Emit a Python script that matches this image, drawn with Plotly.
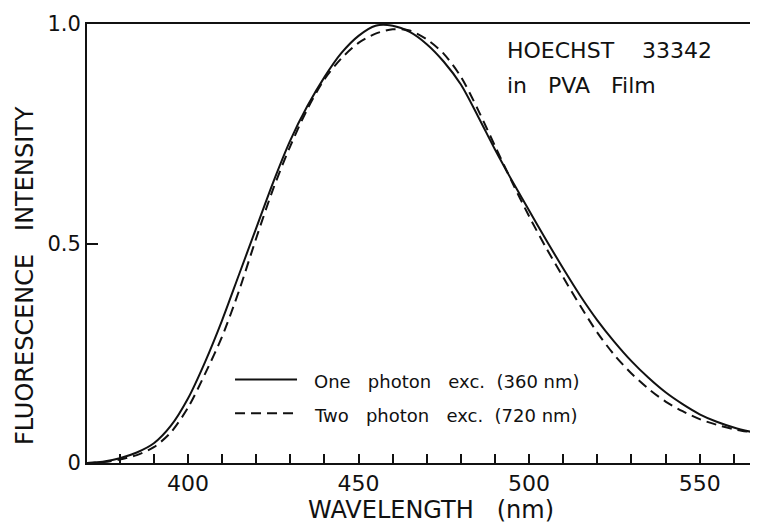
import plotly.graph_objects as go

# emission spectra of Hoechst 33342 in PVA film (normalised)
wavelength_nm = [370, 375, 380, 385, 390, 395, 400, 405, 410, 415, 420, 425, 430, 435,
                 440, 445, 450, 455, 460, 465, 470, 475, 480, 485, 490, 495, 500, 505,
                 510, 515, 520, 525, 530, 535, 540, 545, 550, 555, 560, 565, 568]
one_photon_360 = [0.0, 0.003, 0.011, 0.024, 0.045, 0.085, 0.147, 0.23, 0.325, 0.43, 0.535,
                  0.64, 0.735, 0.813, 0.879, 0.934, 0.973, 0.996, 0.996, 0.982, 0.954,
                  0.914, 0.862, 0.790, 0.714, 0.643, 0.575, 0.508, 0.443, 0.381, 0.325,
                  0.276, 0.232, 0.194, 0.161, 0.134, 0.111, 0.094, 0.081, 0.071, 0.066]
two_photon_720 = [0.0, 0.002, 0.008, 0.018, 0.036, 0.07, 0.126, 0.203, 0.288, 0.393, 0.512,
                  0.625, 0.722, 0.806, 0.874, 0.922, 0.957, 0.978, 0.988, 0.985, 0.965,
                  0.932, 0.880, 0.805, 0.722, 0.640, 0.562, 0.490, 0.423, 0.358, 0.297,
                  0.246, 0.204, 0.169, 0.140, 0.118, 0.100, 0.087, 0.077, 0.070, 0.066]

x_tick_values = list(range(380, 561, 10))
x_tick_labels = [str(v) if v % 50 == 0 else '' for v in x_tick_values]
y_tick_values = [0, 0.5, 1.0]
y_tick_labels = ['0', '0.5', '1.0']

FONT = 'DejaVu Sans'
INK = '#111111'
NB = '\u00a0'

fig = go.Figure()

fig.add_trace(go.Scatter(
    x=wavelength_nm, y=one_photon_360, mode='lines', name='One photon exc. (360 nm)',
    line=dict(color=INK, width=2, shape='spline', smoothing=0.8)
))
fig.add_trace(go.Scatter(
    x=wavelength_nm, y=two_photon_720, mode='lines', name='Two photon exc. (720 nm)',
    line=dict(color=INK, width=2, dash='10px,6px', shape='spline', smoothing=0.8)
))

fig.update_xaxes(
    range=[370.4, 567.1], showline=True, linecolor=INK, linewidth=2, mirror=True,
    ticks='inside', ticklen=9, tickwidth=1.5, tickcolor=INK,
    tickmode='array', tickvals=x_tick_values, ticktext=x_tick_labels,
    showgrid=False, zeroline=False, tickfont=dict(family=FONT, size=22, color=INK)
)
fig.update_yaxes(
    range=[0, 1], showline=True, linecolor=INK, linewidth=2,
    ticks='inside', ticklen=11, tickwidth=1.5, tickcolor=INK,
    tickmode='array', tickvals=y_tick_values, ticktext=y_tick_labels,
    showgrid=False, zeroline=False, tickfont=dict(family=FONT, size=21, color=INK)
)


def label(text, x, y, size, xanchor='center', angle=0):
    return dict(text=text, x=x, y=y, xref='paper', yref='paper', xanchor=xanchor,
                yanchor='middle', showarrow=False, textangle=angle,
                font=dict(family=FONT, size=size, color=INK))


# axis titles and labels placed as annotations
annotations = [
    label('WAVELENGTH' + NB * 3 + '(nm)', 0.5127, -0.107, 24),
    label('FLUORESCENCE' + NB * 3 + 'INTENSITY', -0.0924, 0.428, 24, angle=-90),
    label('HOECHST' + NB * 4 + '33342', 0.6229, 0.9385, 22, xanchor='left'),
    label('in' + NB * 3 + 'PVA' + NB * 3 + 'Film', 0.6229, 0.861, 22, xanchor='left'),
    label('One' + NB * 3 + 'photon' + NB * 3 + 'exc.' + NB * 2 + '(360' + NB + 'nm)',
          0.3349, 0.1852, 18, xanchor='left'),
    label('Two' + NB * 3 + 'photon' + NB * 3 + 'exc.' + NB * 2 + '(720' + NB + 'nm)',
          0.3349, 0.1093, 18, xanchor='left'),
]

# legend line samples
shapes = [
    dict(type='line', xref='paper', yref='paper', x0=0.2206, x1=0.313, y0=0.1902, y1=0.1902,
         line=dict(color=INK, width=2)),
    dict(type='line', xref='paper', yref='paper', x0=0.2206, x1=0.313, y0=0.1132, y1=0.1132,
         line=dict(color=INK, width=2, dash='10px,6px')),
]

# the page puts the figure 8px in from the corner, so size it to fill the window
fig.update_layout(
    width=750, height=519,
    margin=dict(l=79, r=0, t=16, b=64),
    plot_bgcolor='white', paper_bgcolor='white',
    showlegend=False,
    annotations=annotations, shapes=shapes,
    font=dict(family=FONT, color=INK)
)

fig.write_html("out.html")
